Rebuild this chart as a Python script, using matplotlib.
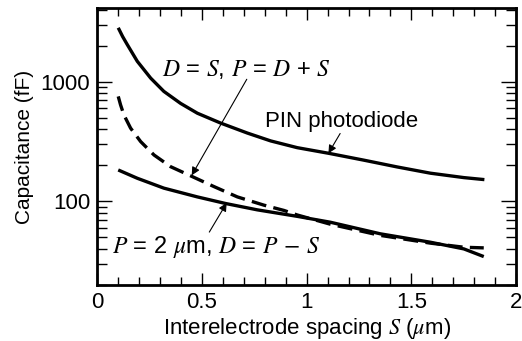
import matplotlib
matplotlib.use("Agg")
import matplotlib.pyplot as plt
from matplotlib.ticker import LogLocator, NullFormatter, MultipleLocator
import numpy as np

plt.rcParams['font.family'] = ['Liberation Sans', 'DejaVu Sans']
plt.rcParams['mathtext.fontset'] = 'stix'

# PIN photodiode curve
pin_s = [0.10, 0.121, 0.143, 0.191, 0.255, 0.318, 0.398, 0.478, 0.589, 0.717, 0.828,
         0.955, 1.106, 1.273, 1.432, 1.591, 1.751, 1.849]
pin_c = [2818, 2380, 2042, 1479, 1070, 829, 658, 545, 451, 372, 320,
         281, 252, 221, 194, 172, 158, 152]

# D = S, P = D + S (dashed)
ds_s = [0.10, 0.111, 0.127, 0.159, 0.207, 0.271, 0.350, 0.454, 0.557, 0.669, 0.796,
        0.892, 0.955, 1.113, 1.352, 1.591, 1.751, 1.846]
ds_c = [753, 641, 528, 409, 316, 244, 195, 161, 133, 109, 93,
        84, 77, 64.5, 52, 44.8, 41.4, 40.9]

# P = 2 um, D = P - S (solid lower)
p2_s = [0.10, 0.191, 0.318, 0.478, 0.613, 0.764, 0.955, 1.113, 1.352, 1.591,
        1.751, 1.846]
p2_c = [183, 156, 129, 109, 96, 85, 75, 67, 53.6, 45.6, 40.1, 34.6]

xticks = [0, 0.5, 1, 1.5, 2]
xticklabels = ['0', '0.5', '1', '1.5', '2']
yticks = [100, 1000]
yticklabels = ['100', '1000']

fig = plt.figure(figsize=(5.22, 3.41), dpi=100)
ax = fig.add_axes([0.1864, 0.164, 0.8021, 0.8117])

lw = 2.4
ax.plot(pin_s, pin_c, color='black', lw=lw, solid_capstyle='butt', solid_joinstyle='round')
ax.plot(ds_s, ds_c, color='black', lw=lw, dashes=(4.5, 2.2))
ax.plot(p2_s, p2_c, color='black', lw=lw, solid_capstyle='butt', solid_joinstyle='round')

ax.set_yscale('log')
ax.set_xlim(0, 2)
ax.set_ylim(20, 4100)

ax.set_xticks(xticks)
ax.set_xticklabels(xticklabels)
ax.xaxis.set_minor_locator(MultipleLocator(0.1))
ax.set_yticks(yticks)
ax.set_yticklabels(yticklabels)
ax.yaxis.set_minor_locator(LogLocator(base=10, subs=np.arange(2, 10)))
ax.yaxis.set_minor_formatter(NullFormatter())

ax.tick_params(axis='both', which='both', direction='in', top=True, right=True,
               width=1.0, labelsize=16, colors='black')
ax.tick_params(axis='x', which='major', length=8.5, pad=5)
ax.tick_params(axis='x', which='minor', length=6)
ax.tick_params(axis='y', which='major', length=10.5, pad=5)
ax.tick_params(axis='y', which='minor', length=7)

for sp in ax.spines.values():
    sp.set_linewidth(2.0)

ax.set_xlabel(r'Interelectrode spacing $S$ ($\mu$m)', fontsize=16, labelpad=2)
ax.set_ylabel('Capacitance (fF)', fontsize=15, labelpad=5)

arrow = dict(arrowstyle='-|>', color='black', lw=0.8, mutation_scale=12,
             shrinkA=0, shrinkB=0)

# annotations
ax.text(0.309, 1260, r'$D$ = $S$, $P$ = $D$ + $S$', fontsize=17, va='center', ha='left')
ax.annotate('', xy=(0.451, 165), xytext=(0.714, 1047), arrowprops=arrow)

ax.text(0.801, 462, 'PIN photodiode', fontsize=16, va='center', ha='left')
ax.annotate('', xy=(1.104, 252), xytext=(1.160, 369), arrowprops=arrow)

ax.text(0.069, 41.4, r'$P$ = 2 $\mu$m, $D$ = $P$ $-$ $S$', fontsize=17, va='center', ha='left')
ax.annotate('', xy=(0.618, 97), xytext=(0.535, 55.4), arrowprops=arrow)

fig.savefig('out.png', dpi=100)
